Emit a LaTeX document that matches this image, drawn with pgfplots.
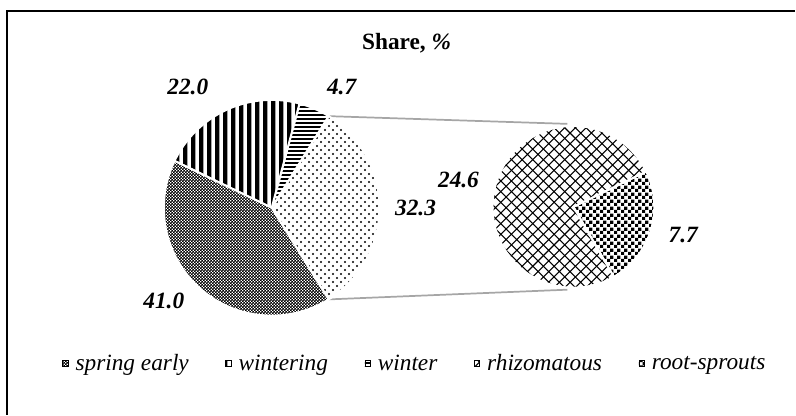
\documentclass[border=0pt]{standalone}
\usepackage{pgfplots}
\pgfplotsset{compat=1.18}
\usepackage{pgfplotstable}
\usetikzlibrary{patterns}
\usepackage{fontspec}
\setmainfont{Liberation Serif}

% ---- patterns ----
\pgfdeclarepatternformonly{finechecker}{\pgfpointorigin}{\pgfqpoint{2.25bp}{2.25bp}}{\pgfqpoint{2.25bp}{2.25bp}}{%
  \pgfpathrectangle{\pgfpointorigin}{\pgfqpoint{1.3bp}{1.3bp}}%
  \pgfpathrectangle{\pgfqpoint{1.125bp}{1.125bp}}{\pgfqpoint{1.125bp}{1.125bp}}%
  \pgfusepath{fill}}
\pgfdeclarepatternformonly{vstripes}{\pgfpointorigin}{\pgfqpoint{6bp}{1bp}}{\pgfqpoint{6bp}{1bp}}{%
  \pgfpathrectangle{\pgfpointorigin}{\pgfqpoint{3.3bp}{1bp}}%
  \pgfusepath{fill}}
\pgfdeclarepatternformonly{hstripes}{\pgfpointorigin}{\pgfqpoint{1bp}{3bp}}{\pgfqpoint{1bp}{3bp}}{%
  \pgfpathrectangle{\pgfpointorigin}{\pgfqpoint{1bp}{1.5bp}}%
  \pgfusepath{fill}}
\pgfdeclarepatternformonly{sdots}{\pgfpointorigin}{\pgfqpoint{6bp}{6bp}}{\pgfqpoint{6bp}{6bp}}{%
  \pgfpathcircle{\pgfqpoint{1.5bp}{1.5bp}}{0.8bp}%
  \pgfpathcircle{\pgfqpoint{4.5bp}{4.5bp}}{0.8bp}%
  \pgfusepath{fill}}
\pgfdeclarepatternformonly{diamonds}{\pgfqpoint{-0.5bp}{-0.5bp}}{\pgfqpoint{8.5bp}{8.5bp}}{\pgfqpoint{8bp}{8bp}}{%
  \pgfsetlinewidth{0.8bp}%
  \pgfpathmoveto{\pgfqpoint{0bp}{0bp}}\pgfpathlineto{\pgfqpoint{8bp}{8bp}}%
  \pgfpathmoveto{\pgfqpoint{0bp}{8bp}}\pgfpathlineto{\pgfqpoint{8bp}{0bp}}%
  \pgfusepath{stroke}}
\pgfdeclarepatternformonly{coarsechecker}{\pgfpointorigin}{\pgfqpoint{5bp}{5bp}}{\pgfqpoint{5bp}{5bp}}{%
  \pgfpathrectangle{\pgfpointorigin}{\pgfqpoint{2.5bp}{2.5bp}}%
  \pgfpathrectangle{\pgfqpoint{2.5bp}{2.5bp}}{\pgfqpoint{2.5bp}{2.5bp}}%
  \pgfusepath{fill}}

\definecolor{conn}{RGB}{166,166,166}

\pgfplotstableread{
name value
spring 41.0
wintering 22.0
winter 4.7
rhizomatous 24.6
rootsprouts 7.7
}\datatable

\pgfplotstablegetelem{0}{value}\of\datatable \let\vA\pgfplotsretval
\pgfplotstablegetelem{1}{value}\of\datatable \let\vB\pgfplotsretval
\pgfplotstablegetelem{2}{value}\of\datatable \let\vC\pgfplotsretval
\pgfplotstablegetelem{3}{value}\of\datatable \let\vD\pgfplotsretval
\pgfplotstablegetelem{4}{value}\of\datatable \let\vE\pgfplotsretval

\pgfmathsetmacro\vOther{\vD+\vE}
\pgfmathsetmacro\eO{\vOther*3.6/2}
\pgfmathsetmacro\sO{-\eO}
\pgfmathsetmacro\eW{\eO+\vC*3.6}
\pgfmathsetmacro\eWg{\eW+\vB*3.6}
\pgfmathsetmacro\eS{\eWg+\vA*3.6}
\pgfmathsetmacro\sR{-60}
\pgfmathsetmacro\eR{\sR+\vE/\vOther*360}
\pgfmathsetmacro\eRh{\sR+360}

% main pie centre and radius, secondary pie centre and radius (pixel units)
\def\cxA{272}\def\cyA{207}\def\rA{108}
\def\cxB{574}\def\cyB{208}\def\rB{81}

\newcommand\slice[6]{%
  \addplot[#6, draw=white, line width=1.5bp, domain=#4:#5, samples=90, forget plot]
    ({#1+#3*cos(x)}, {#2+#3*sin(x)}) -- (axis cs:#1,#2) -- cycle;}

\begin{document}
\fontsize{17.5bp}{21bp}\selectfont
\begin{tikzpicture}
\begin{axis}[
  scale only axis, width=597bp, height=311.25bp,
  xmin=0, xmax=796, ymin=0, ymax=415,
  hide axis, clip=false,
  legend columns=5,
  legend style={draw=none, fill=none, font=\fontsize{17.5bp}{21bp}\selectfont\itshape,
    at={(axis cs:418,50)}, anchor=center,
    /tikz/every even column/.append style={column sep=22bp},
    nodes={inner xsep=5.5bp, inner ysep=1bp}},
]
% frame
\addplot[black, line width=1.3bp, forget plot] coordinates {(7,0) (7,404) (796,404)};
% connector lines
\pgfmathsetmacro\xa{\cxA+\rA*cos(\eO)}
\pgfmathsetmacro\ya{\cyA+\rA*sin(\eO)}
\pgfmathsetmacro\yb{\cyA-\rA*sin(\eO)}
\addplot[conn, line width=1.3bp, forget plot] coordinates {(\xa,\ya) (568,291)};
\addplot[conn, line width=1.3bp, forget plot] coordinates {(\xa,\yb) (568,125)};
% main pie
\slice{\cxA}{\cyA}{\rA}{\sO}{\eO}{pattern=sdots}
\slice{\cxA}{\cyA}{\rA}{\eO}{\eW}{pattern=hstripes}
\slice{\cxA}{\cyA}{\rA}{\eW}{\eWg}{pattern=vstripes}
\slice{\cxA}{\cyA}{\rA}{\eWg}{\eS}{pattern=finechecker}
% secondary pie
\slice{\cxB}{\cyB}{\rB}{\sR}{\eR}{pattern=coarsechecker}
\slice{\cxB}{\cyB}{\rB}{\eR}{\eRh}{pattern=diamonds}
% labels
\node[font=\bfseries\itshape, inner sep=0] at (axis cs:188,328) {22.0};
\node[font=\bfseries\itshape, inner sep=0] at (axis cs:342,328) {4.7};
\node[font=\bfseries\itshape, inner sep=0] at (axis cs:416,207) {32.3};
\node[font=\bfseries\itshape, inner sep=0] at (axis cs:164,114) {41.0};
\node[font=\bfseries\itshape, inner sep=0] at (axis cs:459,235) {24.6};
\node[font=\bfseries\itshape, inner sep=0] at (axis cs:684,180) {7.7};
% title
\node[font=\bfseries, inner sep=0] at (axis cs:407,372) {Share, \textit{\%}};
% legend
\addlegendimage{legend image code/.code={\path[pattern=finechecker] (0bp,-1.5bp) rectangle (4bp,3bp);}}
\addlegendentry{spring early}
\addlegendimage{legend image code/.code={\path[pattern=vstripes] (0bp,-1.5bp) rectangle (4bp,3bp);}}
\addlegendentry{wintering}
\addlegendimage{legend image code/.code={\path[pattern=hstripes] (0bp,-1.5bp) rectangle (4bp,3bp);}}
\addlegendentry{winter}
\addlegendimage{legend image code/.code={\path[pattern=diamonds] (0bp,-1.5bp) rectangle (4bp,3bp);}}
\addlegendentry{rhizomatous}
\addlegendimage{legend image code/.code={\path[pattern=coarsechecker] (0bp,-1.5bp) rectangle (4bp,3bp);}}
\addlegendentry{root-sprouts}
% bounding box
\path (axis cs:0,0) rectangle (axis cs:796,415);
\end{axis}
\end{tikzpicture}
\end{document}
